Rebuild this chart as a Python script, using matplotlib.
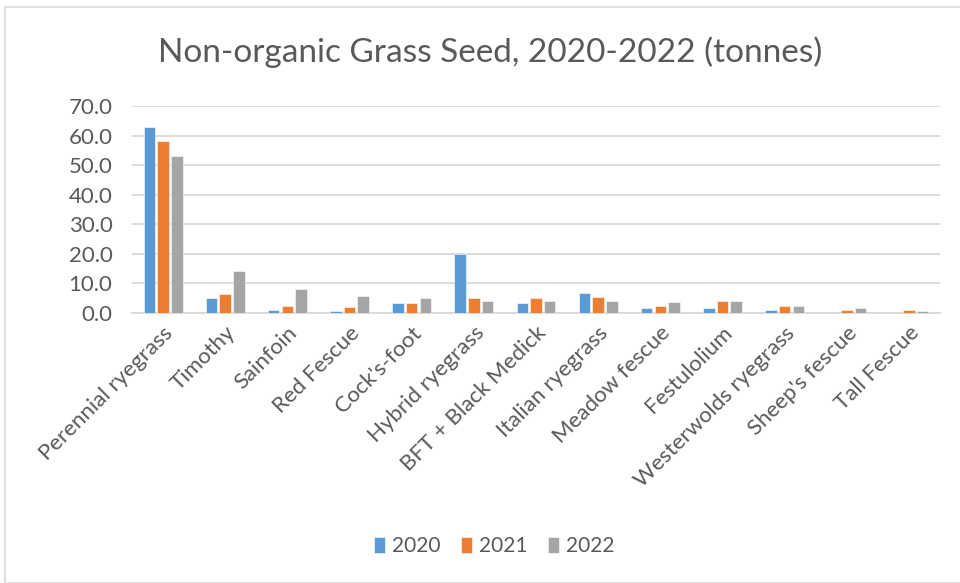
import numpy as np
import matplotlib.pyplot as plt
from matplotlib.patches import Rectangle

plt.rcParams['font.family'] = ['Lato', 'DejaVu Sans']

grasses = ['Perennial ryegrass', 'Timothy', 'Sainfoin', 'Red Fescue', "Cock's-foot",
           'Hybrid ryegrass', 'BFT + Black Medick', 'Italian ryegrass', 'Meadow fescue',
           'Festulolium', 'Westerwolds ryegrass', "Sheep's fescue", 'Tall Fescue']
y2020 = [62.8, 5.0, 1.1, 0.8, 3.3, 19.9, 3.4, 6.8, 1.6, 1.6, 1.1, 0.0, 0.0]
y2021 = [58.0, 6.3, 2.4, 2.0, 3.3, 5.0, 5.1, 5.5, 2.5, 3.9, 2.5, 1.1, 1.1]
y2022 = [53.2, 14.1, 8.0, 5.9, 5.0, 4.1, 4.2, 4.2, 3.75, 3.9, 2.5, 1.6, 0.8]
years = ['2020', '2021', '2022']
colors = ['#5b9bd5', '#ed7d31', '#a5a5a5']
yticks = np.arange(0, 80, 10)

txt = '#595959'
fig = plt.figure(figsize=(9.6, 5.83), dpi=100)
fig.patches.append(Rectangle((5/960, 0), 1, 1 - 7/583, transform=fig.transFigure,
                             fill=False, edgecolor='#d9d9d9', linewidth=1.2))
ax = fig.add_axes([132/960, 1 - 313/583, (940-132)/960, (313-106)/583])

x = np.arange(len(grasses))
w = 0.185
step = 0.22
for i, (vals, yr, c) in enumerate(zip([y2020, y2021, y2022], years, colors)):
    ax.bar(x + (i - 1) * step, vals, w, color=c, label=yr, zorder=3,
           edgecolor='white', linewidth=0.4)

ax.set_xlim(-0.5, len(grasses) - 0.5)
ax.set_ylim(0, 70)
ax.set_yticks(yticks)
ax.set_yticklabels(['%.1f' % v for v in yticks], fontsize=16, color=txt)
ax.set_xticks(x)
ax.set_xticklabels(grasses, rotation=45, ha='right', rotation_mode='anchor',
                   fontsize=16, color=txt)
ax.tick_params(axis='y', length=0, pad=14)
ax.tick_params(axis='x', length=0, pad=7)
ax.grid(axis='y', color='#d9d9d9', linewidth=1.3, zorder=0)
for s in ['top', 'right', 'left']:
    ax.spines[s].set_visible(False)
ax.spines['bottom'].set_color('#d9d9d9')
ax.spines['bottom'].set_linewidth(1.3)

fig.text(490/960, 1 - 52/583, 'Non-organic Grass Seed, 2020-2022 (tonnes)',
         ha='center', va='center', fontsize=24, color=txt)
fig.legend(loc='center', bbox_to_anchor=(494/960, 1 - 546/583), ncol=3, frameon=False,
           fontsize=15, labelcolor=txt, handlelength=0.55, handleheight=0.8,
           handletextpad=0.3, columnspacing=1.0)

plt.savefig('out.png', dpi=100)
